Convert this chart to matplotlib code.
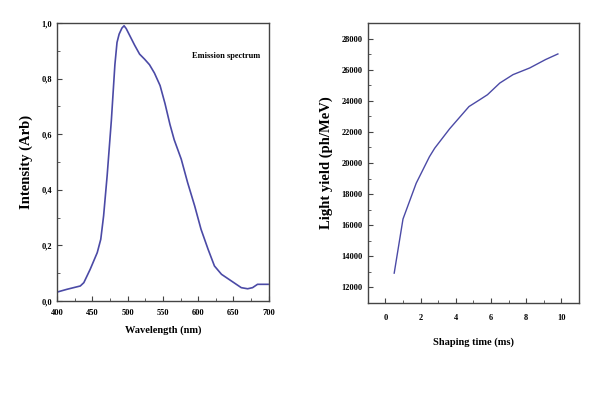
import matplotlib
matplotlib.use("Agg")
import matplotlib.pyplot as plt
from matplotlib import ticker

plt.rcParams["font.family"] = ["Liberation Serif", "DejaVu Serif"]
plt.rcParams["font.weight"] = "bold"

# emission spectrum
wavelength = [400, 414, 433, 438, 447, 457, 462, 466, 471, 477, 482, 485, 488,
              492, 495, 498, 503, 510, 517, 524, 531, 538, 546, 553, 560, 566,
              576, 585, 595, 604, 614, 623, 633, 647, 661, 670, 677, 684, 699]
intensity = [0.032, 0.042, 0.054, 0.066, 0.114, 0.174, 0.222, 0.306, 0.45,
             0.65, 0.85, 0.93, 0.96, 0.982, 0.99, 0.98, 0.955, 0.92, 0.888,
             0.87, 0.85, 0.82, 0.775, 0.71, 0.635, 0.58, 0.51, 0.426, 0.342,
             0.258, 0.186, 0.126, 0.096, 0.072, 0.048, 0.044, 0.048, 0.06, 0.06]

# light yield vs shaping time
shaping = [0.5, 1.0, 1.75, 2.5, 2.8, 3.65, 4.75, 5.35, 5.8, 6.5, 7.25, 8.2,
           9.1, 9.8]
light_yield = [12920, 16400, 18700, 20400, 20950, 22200, 23630, 24060, 24390,
               25140, 25680, 26110, 26650, 27010]

line_color = "#4b4aa6"
spine_color = "#444444"

fig = plt.figure(figsize=(6, 4), dpi=100)
ax1 = fig.add_axes([0.095, 0.2475, 0.353, 0.695])
ax2 = fig.add_axes([0.613, 0.2425, 0.352, 0.70])

ax1.plot(wavelength, intensity, color=line_color, lw=1.2)
ax1.set_xlim(400, 700)
ax1.set_ylim(0, 1.0)
ax1.xaxis.set_major_locator(ticker.MultipleLocator(50))
ax1.xaxis.set_minor_locator(ticker.MultipleLocator(25))
ax1.yaxis.set_major_locator(ticker.MultipleLocator(0.2))
ax1.yaxis.set_minor_locator(ticker.MultipleLocator(0.1))
ax1.yaxis.set_major_formatter(
    ticker.FuncFormatter(lambda v, p: f"{v:.1f}".replace(".", ",")))
ax1.set_xlabel("Wavelength (nm)", fontsize=7.5, fontweight="bold", labelpad=6)
ax1.set_ylabel("Intensity (Arb)", fontsize=10.5, fontweight="bold", labelpad=6)
ax1.text(0.96, 0.88, "Emission spectrum", transform=ax1.transAxes,
         ha="right", va="center", fontsize=6, fontweight="bold")

ax2.plot(shaping, light_yield, color=line_color, lw=1.0)
ax2.set_xlim(-1, 11)
ax2.set_ylim(11000, 29000)
ax2.xaxis.set_major_locator(ticker.MultipleLocator(2))
ax2.xaxis.set_minor_locator(ticker.MultipleLocator(1))
ax2.yaxis.set_major_locator(ticker.MultipleLocator(2000))
ax2.yaxis.set_minor_locator(ticker.MultipleLocator(1000))
ax2.set_xlabel("Shaping time (ms)", fontsize=7.5, fontweight="bold", labelpad=11)
ax2.set_ylabel("Light yield (ph/MeV)", fontsize=10.5, fontweight="bold", labelpad=6)

for ax in (ax1, ax2):
    for s in ax.spines.values():
        s.set_color(spine_color)
        s.set_linewidth(1.0)
    ax.tick_params(which="both", direction="in", color=spine_color,
                   labelsize=6, top=False, right=False)
    ax.tick_params(which="major", length=3.5, width=0.8)
    ax.tick_params(which="minor", length=2, width=0.6)
ax1.tick_params(axis="x", which="major", pad=6)
ax2.tick_params(axis="x", which="major", pad=8)

fig.savefig("out.png", dpi=100)
